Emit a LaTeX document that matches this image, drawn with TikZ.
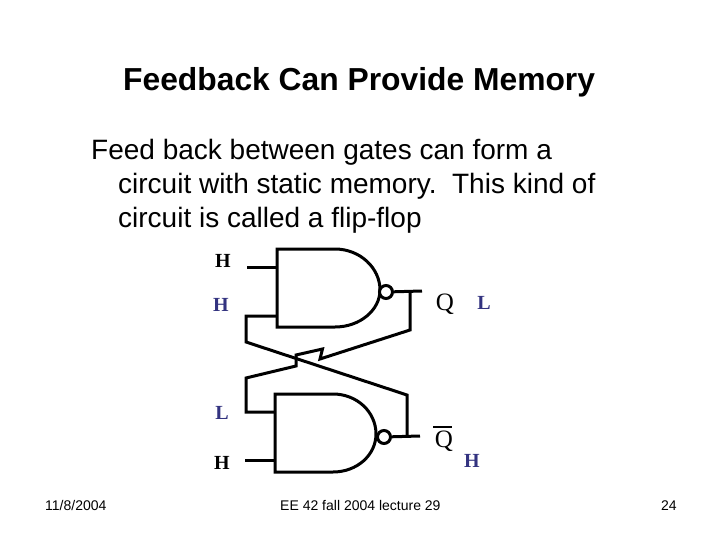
\documentclass[tikz,border=0pt]{standalone}
\usepackage{fontspec}
\setmainfont{Liberation Sans}
\newfontfamily\serifx{Liberation Serif}
\definecolor{navyl}{HTML}{333380}
\tikzset{x=1pt,y=-1pt,
 wire/.style={line width=3pt,line join=miter,line cap=butt,black},
 gate/.style={line width=3pt,line join=miter,black,fill=white},
 bubble/.style={circle,draw=black,line width=3pt,fill=white,minimum size=13pt,inner sep=0pt},
 titletxt/.style={font=\fontsize{31.8}{31.8}\selectfont\bfseries,anchor=base west,inner sep=0pt},
 bodytxt/.style={font=\fontsize{28}{28}\selectfont,anchor=base west,inner sep=0pt},
 foot/.style={font=\fontsize{14}{14}\selectfont,anchor=base west,inner sep=0pt},
 lev/.style={font=\serifx\fontsize{20}{20}\selectfont\bfseries,anchor=base,inner sep=0pt},
 qtxt/.style={font=\serifx\fontsize{25}{25}\selectfont,anchor=base,inner sep=0pt}}
\begin{document}
\begin{tikzpicture}
\useasboundingbox (0,0) rectangle (720,540);
\fill[white] (0,0) rectangle (720,540);
\node[titletxt] (title) at (123,91) {Feedback Can Provide Memory};
\node[bodytxt] (b1) at (91,160) {Feed back between gates can form a};
\node[bodytxt] (b2) at (118,193.5) {circuit with static memory.\ \ This kind of};
\node[bodytxt] (b3) at (118,227) {circuit is called a flip-flop};
% gates
\draw[gate] (277,249) -- (335,249) .. controls (360,249) and (380,268) .. (380,290) .. controls (380,310) and (360,327) .. (335,327) -- (277,327) -- cycle;
\draw[gate] (275,394) -- (333,394) .. controls (357,394) and (376,412) .. (376,434) .. controls (376,455) and (357,472) .. (333,472) -- (275,472) -- cycle;
\node[bubble] (bt) at (386,292) {};
\node[bubble] (bb) at (384,437) {};
% coordinates
\coordinate (ta) at (247,267); \coordinate (tai) at (277,267);
\coordinate (tb) at (277,316);
\coordinate (ba) at (275,412); \coordinate (bb2) at (245,460); \coordinate (bbi) at (275,460);
\coordinate (qt) at (422,291); \coordinate (qb) at (420,436);
\coordinate (jt) at (410,291); \coordinate (jb) at (407,436);
\draw[wire] (ta) -- (tai);
\draw[wire] (bb2) -- (bbi);
\draw[wire] (bt) -- (qt);
\draw[wire] (bb) -- (qb);
\draw[wire] (jt) -- (410,330) -- (320,359) -- (322.5,349) -- (296,355) -- (296,366) -- (246,378) -- (246,412) -- (ba);
\draw[wire] (tb) -- (246,316) -- (246,342) -- (407,395) -- (jb);
% labels
\node[lev] (h1) at (223,267) {H};
\node[lev,text=navyl] (h2) at (221,311) {H};
\node[lev,text=navyl] (l1) at (222,419) {L};
\node[lev] (h3) at (222,469) {H};
\node[lev,text=navyl] (l2) at (484,309) {L};
\node[lev,text=navyl] (h4) at (472,467) {H};
\node[qtxt] (q1) at (445,310) {Q};
\node[qtxt] (q2) at (444,447) {Q};
\draw[line width=1.8pt] (433,427) -- (452,427);
\node[foot] (f1) at (45,510) {11/8/2004};
\node[foot] (f2) at (280,510) {EE 42 fall 2004 lecture 29};
\node[foot] (f3) at (661,510) {24};
\end{tikzpicture}
\end{document}
